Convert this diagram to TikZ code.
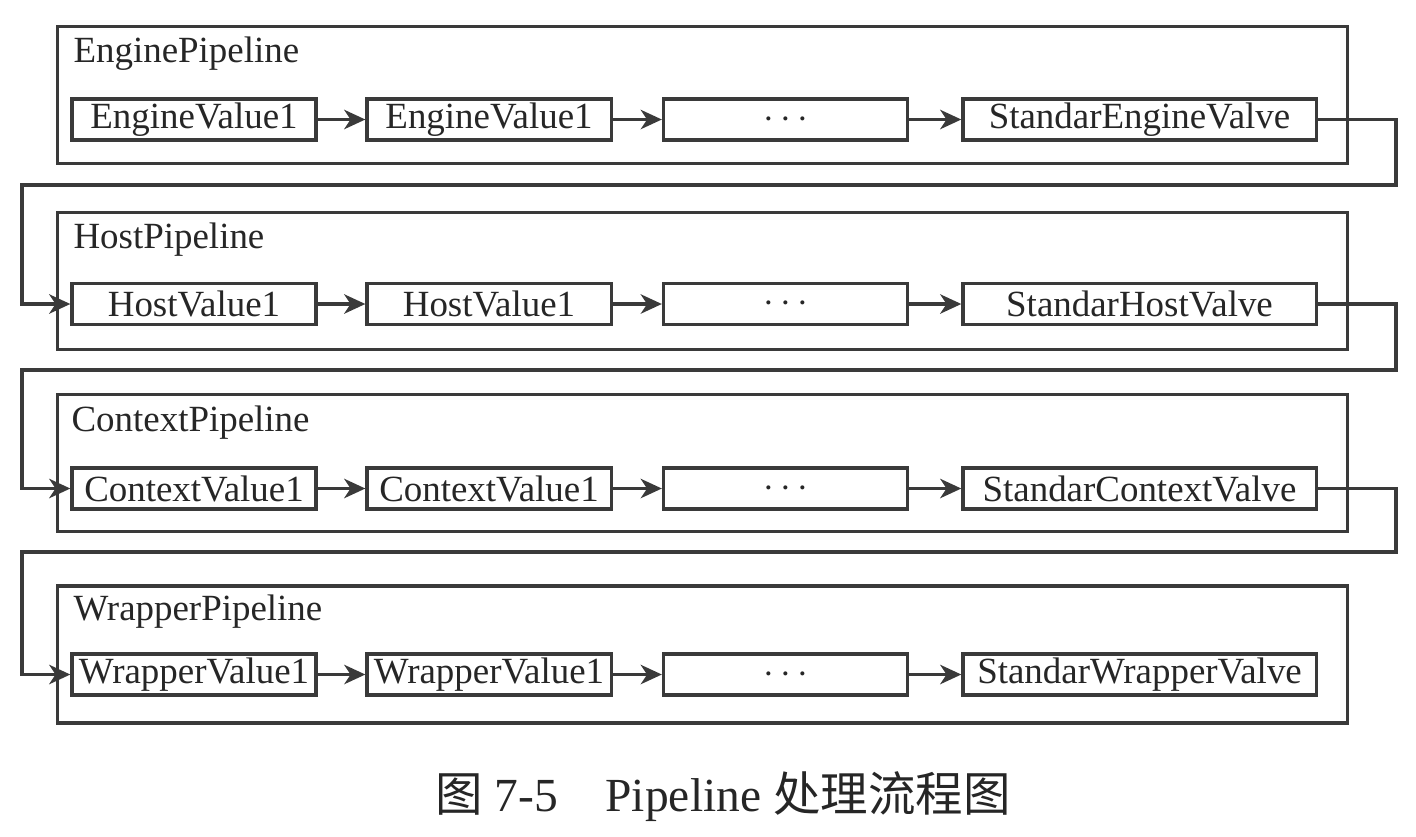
\documentclass[tikz,border=0pt]{standalone}
\usepackage{fontspec}
\setmainfont{Liberation Serif}
\newfontfamily\cjk{Noto Sans CJK SC}
\usetikzlibrary{arrows.meta}

\definecolor{inkgray}{HTML}{3A3A3A}

\tikzset{
  valve/.style={draw=inkgray, minimum width=2.44cm, minimum height=0.41cm, inner sep=0pt,
    text=black!85, font=\fontsize{10.5}{12}\selectfont},
  lastvalve/.style={valve, minimum width=3.53cm},
  pipe/.style={draw=inkgray, minimum width=12.89cm, minimum height=1.37cm, inner sep=0pt},
  ptitle/.style={anchor=base west, inner sep=0pt, text=black!85, font=\fontsize{10.5}{12}\selectfont},
  flow/.style={draw=inkgray, -{Stealth[length=6pt,width=5.5pt,inset=1.8pt]}},
}

\begin{document}
\begin{tikzpicture}[x=0.01cm, y=-0.01cm, line width=0.9pt]
  \useasboundingbox (0,0) rectangle (1416,836);

  % EnginePipeline
  \node[pipe] (ep) at (702.5,95) {};
  \node[ptitle] (ept) at (72,62) {EnginePipeline};
  \node[valve] (e1) at (194,119.5) {EngineValue1};
  \node[valve] (e2) at (489,119.5) {EngineValue1};
  \node[valve] (e3) at (785.5,119.5) {$\cdots$};
  \node[lastvalve] (e4) at (1139.5,119.5) {StandarEngineValve};
  \draw[flow] (e1) -- (e2);
  \draw[flow] (e2) -- (e3);
  \draw[flow] (e3) -- (e4);

  % HostPipeline
  \node[pipe] (hp) at (702.5,281) {};
  \node[ptitle] (hpt) at (72,248) {HostPipeline};
  \node[valve] (h1) at (194,304) {HostValue1};
  \node[valve] (h2) at (489,304) {HostValue1};
  \node[valve] (h3) at (785.5,304) {$\cdots$};
  \node[lastvalve] (h4) at (1139.5,304) {StandarHostValve};
  \draw[flow] (h1) -- (h2);
  \draw[flow] (h2) -- (h3);
  \draw[flow] (h3) -- (h4);

  % ContextPipeline
  \node[pipe] (cp) at (702.5,463) {};
  \node[ptitle] (cpt) at (70,431) {ContextPipeline};
  \node[valve] (c1) at (194,488.5) {ContextValue1};
  \node[valve] (c2) at (489,488.5) {ContextValue1};
  \node[valve] (c3) at (785.5,488.5) {$\cdots$};
  \node[lastvalve] (c4) at (1139.5,488.5) {StandarContextValve};
  \draw[flow] (c1) -- (c2);
  \draw[flow] (c2) -- (c3);
  \draw[flow] (c3) -- (c4);

  % WrapperPipeline
  \node[pipe] (wp) at (702.5,654.5) {};
  \node[ptitle] (wpt) at (72,620) {WrapperPipeline};
  \node[valve] (w1) at (194,674.5) {WrapperValue1};
  \node[valve] (w2) at (489,674.5) {WrapperValue1};
  \node[valve] (w3) at (785.5,674.5) {$\cdots$};
  \node[lastvalve] (w4) at (1139.5,674.5) {StandarWrapperValve};
  \draw[flow] (w1) -- (w2);
  \draw[flow] (w2) -- (w3);
  \draw[flow] (w3) -- (w4);

  % links between pipelines
  \coordinate (r1) at (1396,185);
  \coordinate (l1) at (22,185);
  \coordinate (r2) at (1396,370);
  \coordinate (l2) at (22,370);
  \coordinate (r3) at (1396,552);
  \coordinate (l3) at (22,552);
  \draw[flow] (e4.east) -| (r1) -- (l1) |- (h1.west);
  \draw[flow] (h4.east) -| (r2) -- (l2) |- (c1.west);
  \draw[flow] (c4.east) -| (r3) -- (l3) |- (w1.west);

  % caption
  \node[anchor=base, text=black!85, font=\fontsize{13.5}{15}\selectfont] (cap) at (723,811)
    {{\cjk 图} 7-5\quad Pipeline {\cjk 处理流程图}};
\end{tikzpicture}
\end{document}
